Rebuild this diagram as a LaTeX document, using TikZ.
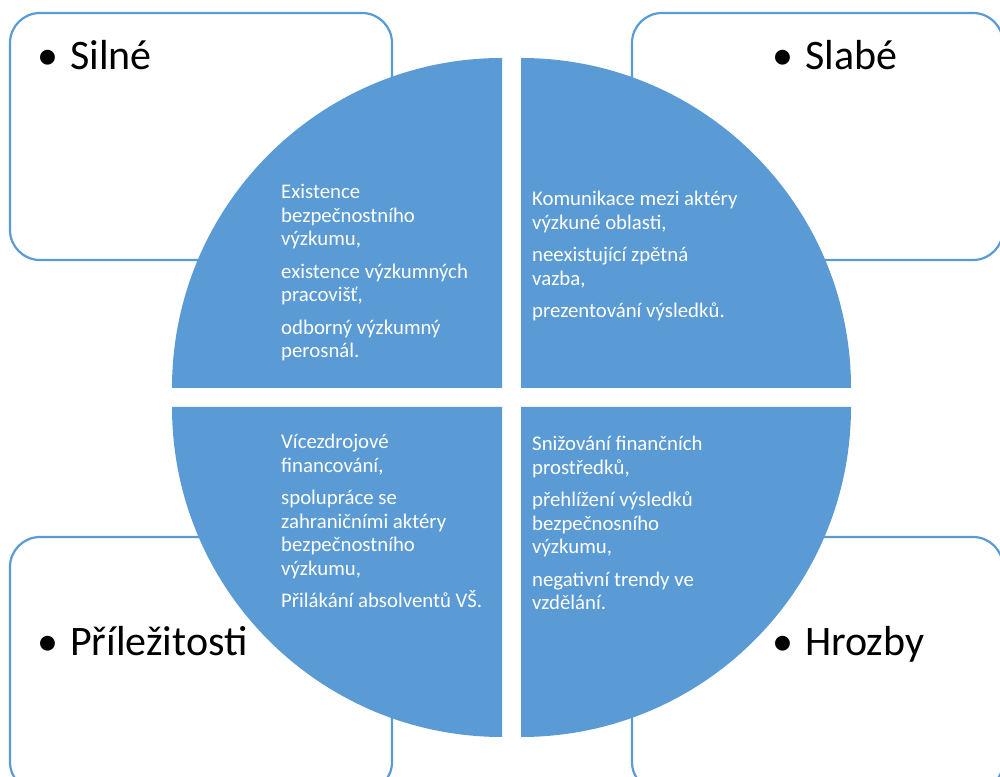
\documentclass[tikz,border=0pt]{standalone}
\usepackage{fontspec}
\setmainfont{Carlito}
\usetikzlibrary{positioning}
\definecolor{sky}{RGB}{91,155,213}
\tikzset{
  card/.style={draw=sky,line width=2.2pt,fill=white,rounded corners=30pt},
  quad/.style={fill=sky},
  heading/.style={anchor=base west,inner sep=0,font=\fontsize{42}{50}\selectfont},
  quadtext/.style={anchor=base west,inner sep=0,align=left,text=white,
    font=\fontsize{20.8}{23.5}\selectfont},
}
\newcommand{\bul}{\makebox[33pt][l]{\textbullet}}

\begin{document}
\begin{tikzpicture}[x=1pt,y=1pt]
  \clip (0,0) rectangle (1000,776);
  \fill[white] (0,0) rectangle (1000,776);
  % corner cards
  \draw[card] (10,763) rectangle (392,516);
  \draw[card] (632,763) rectangle (1003,516);
  \draw[card] (10,239) rectangle (392,-16);
  \draw[card] (632,239) rectangle (1003,-16);
  % the four quarters of the disc
  \fill[quad] (502,388) -- ++(-330,0) arc[start angle=180,end angle=90,radius=330] -- cycle;
  \fill[quad] (521,388) -- ++(0,330) arc[start angle=90,end angle=0,radius=330] -- cycle;
  \fill[quad] (502,369) -- ++(0,-330) arc[start angle=270,end angle=180,radius=330] -- cycle;
  \fill[quad] (521,369) -- ++(330,0) arc[start angle=0,end angle=-90,radius=330] -- cycle;
  % headings
  \node[heading] (silne) at (37,706) {\bul Silné};
  \node[heading] (slabe) at (772,706) {\bul Slabé};
  \node[heading] (prilezitosti) at (37,121) {\bul Příležitosti};
  \node[heading] (hrozby) at (772,121) {\bul Hrozby};
  % quarter texts (base = last line)
  \node[quadtext] (silneText) at (281,418)
    {Existence\\bezpečnostního\\výzkumu,\\[9pt]existence výzkumných\\pracovišť,\\[9pt]odborný výzkumný\\perosnál.};
  \node[quadtext] (slabeText) at (532,458)
    {Komunikace mezi aktéry\\výzkuné oblasti,\\[9pt]neexistující zpětná\\vazba,\\[9pt]prezentování výsledků.};
  \node[quadtext] (prilezitostiText) at (281,168)
    {Vícezdrojové\\financování,\\[9pt]spolupráce se\\zahraničními aktéry\\bezpečnostního\\výzkumu,\\[9pt]Přilákání absolventů VŠ.};
  \node[quadtext] (hrozbyText) at (532,166)
    {Snižování finančních\\prostředků,\\[9pt]přehlížení výsledků\\bezpečnosního\\výzkumu,\\[9pt]negativní trendy ve\\vzdělání.};
\end{tikzpicture}
\end{document}
